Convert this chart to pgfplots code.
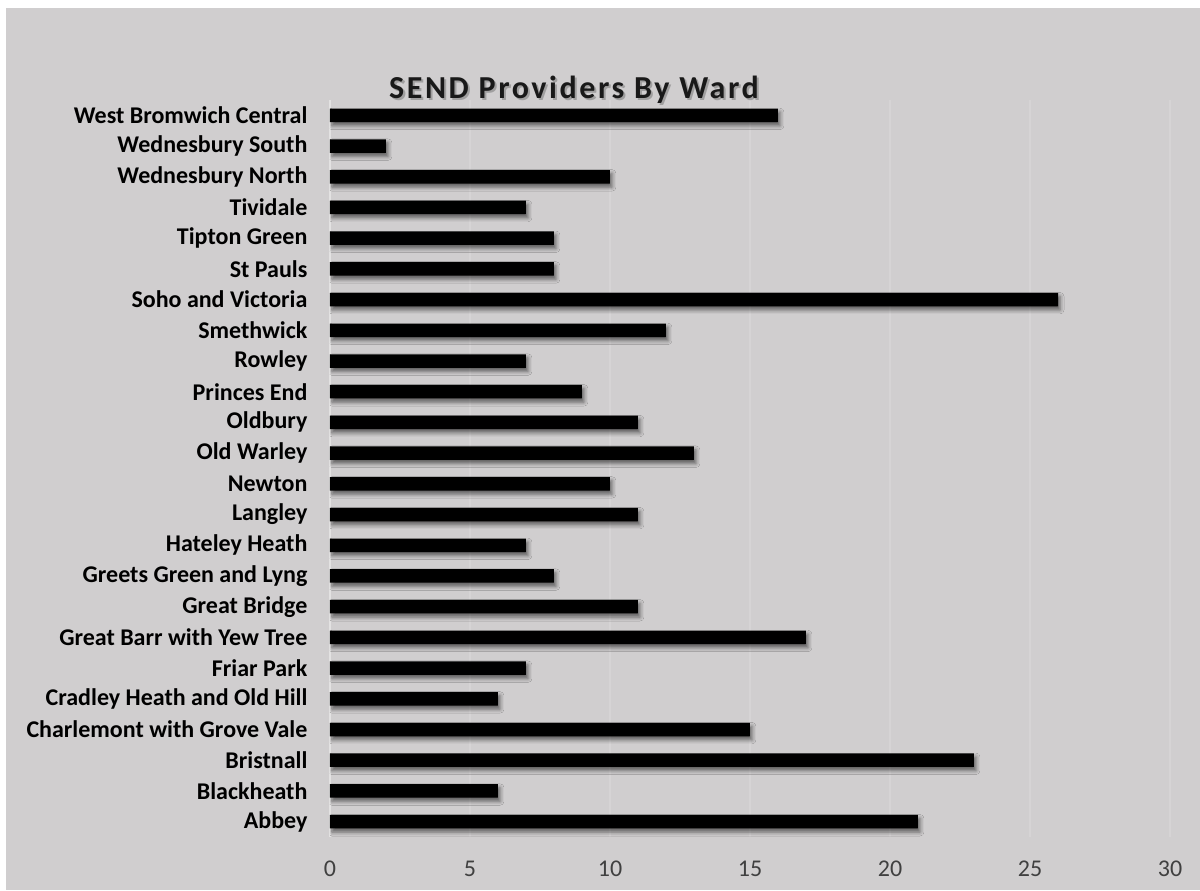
\documentclass[border=0pt]{standalone}
\usepackage{pgfplots}
\pgfplotsset{compat=1.18}
\usepackage{fontspec}
\setmainfont{Carlito}
\newfontfamily\titlefont[LetterSpace=8]{Carlito}
\usetikzlibrary{shadows.blur,backgrounds}
\definecolor{bg}{RGB}{208,206,207}
\definecolor{gridc}{RGB}{214,212,213}
\definecolor{tickc}{RGB}{64,64,64}
\begin{document}
\begin{tikzpicture}
\begin{axis}[
  scale only axis,
  width=420pt, height=368.5pt,
  xmin=0, xmax=30, ymin=-0.5, ymax=23.5,
  xbar, bar width=6.75pt,
  axis line style={draw=none},
  tick style={draw=none},
  xtick={5,10,...,30},
  extra x ticks={0},
  extra x tick style={grid style={draw=white!40!bg, line width=0.8pt}},
  xmajorgrids, grid style={draw=gridc, line width=0.6pt},
  ytick={0,...,23},
  yticklabels={Abbey,Blackheath,Bristnall,Charlemont with Grove Vale,Cradley Heath and Old Hill,Friar Park,Great Barr with Yew Tree,Great Bridge,Greets Green and Lyng,Hateley Heath,Langley,Newton,Old Warley,Oldbury,Princes End,Rowley,Smethwick,Soho and Victoria,St Pauls,Tipton Green,Tividale,Wednesbury North,Wednesbury South,West Bromwich Central},
  yticklabel style={font=\bfseries\fontsize{12}{14}\selectfont, text=black, xshift=-3.5pt},
  xticklabel style={font=\fontsize{12}{14}\selectfont, text=tickc, yshift=-8.5pt},
  /pgf/number format/assume math mode=true,
]
\coordinate (LL) at (rel axis cs:0,0);
\addplot[fill=black, draw=none, blur shadow={shadow xshift=1pt, shadow yshift=-1.8pt, shadow blur radius=2pt, shadow opacity=55}] coordinates {
(21,0) (6,1) (23,2) (15,3) (6,4) (7,5) (17,6) (11,7) (8,8) (7,9) (11,10) (10,11) (13,12) (11,13) (9,14) (7,15) (12,16) (26,17) (8,18) (8,19) (7,20) (10,21) (2,22) (16,23)
};
\end{axis}
\node[font=\titlefont\bfseries\fontsize{16}{18}\selectfont, text=gray, opacity=0.6] at ($(LL)+(123pt,372.5pt)$) {SEND Providers By Ward};
\node[font=\titlefont\bfseries\fontsize{16}{18}\selectfont, text=black!90] at ($(LL)+(122pt,373.5pt)$) {SEND Providers By Ward};
\begin{scope}[on background layer]
\fill[white] ($(LL)+(-165pt,-26.5pt)$) rectangle ($(LL)+(435pt,418.5pt)$);
\fill[bg] ($(LL)+(-162pt,-26.5pt)$) rectangle ($(LL)+(435pt,414.5pt)$);
\end{scope}
\pgfresetboundingbox
\useasboundingbox ($(LL)+(-165pt,-26.5pt)$) rectangle ($(LL)+(435pt,418.5pt)$);
\end{tikzpicture}
\end{document}
